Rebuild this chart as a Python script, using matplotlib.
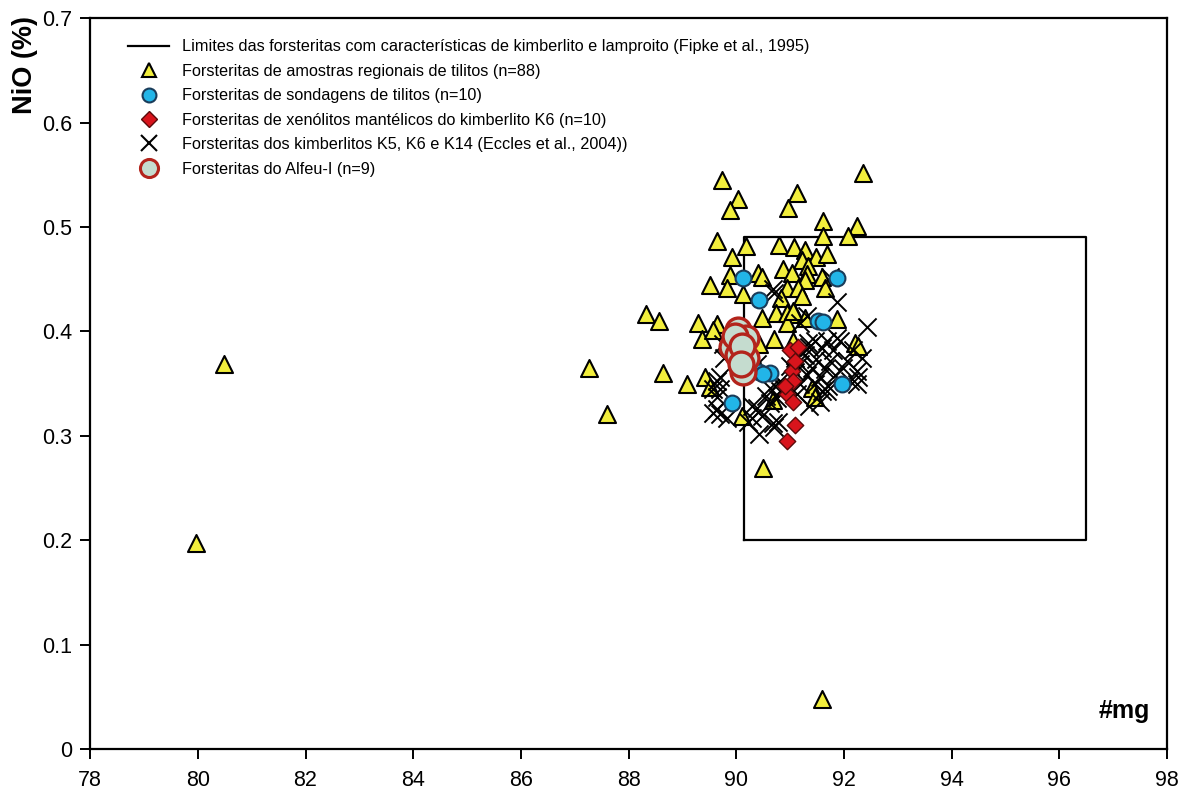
import matplotlib
matplotlib.use('Agg')
import matplotlib.pyplot as plt
from matplotlib.lines import Line2D

plt.rcParams['font.family'] = ['Liberation Sans', 'DejaVu Sans']

# limites Fipke et al. (1995)
box_x = [90.15, 90.15, 96.5, 96.5, 90.15]
box_y = [0.2, 0.49, 0.49, 0.2, 0.2]

# tilitos regionais (triangulos)
tri_x = [79.97, 80.49, 87.27, 87.59, 88.33, 88.56, 88.63, 89.08, 89.41, 89.51,
         89.28, 89.65, 89.36, 89.56, 89.73, 90.03, 89.88, 89.64, 90.19, 89.93,
         89.88, 89.51, 89.82, 90.12, 92.35, 91.12, 90.96, 91.61, 92.24, 91.61,
         92.07, 90.79, 91.07, 91.27, 91.48, 91.68, 91.22, 91.33, 90.40, 90.47,
         90.86, 91.03, 91.31, 91.27, 91.59, 91.64, 90.94, 91.14, 90.83, 91.23,
         90.47, 90.73, 90.94, 91.09, 91.27, 90.94, 91.87, 90.43, 90.71, 91.05,
         92.20, 92.26, 91.40, 91.46, 90.68, 90.10, 90.49, 91.59, 91.05]
tri_y = [0.197, 0.369, 0.365, 0.321, 0.417, 0.410, 0.360, 0.350, 0.356, 0.347,
         0.408, 0.407, 0.393, 0.401, 0.545, 0.527, 0.516, 0.487, 0.482, 0.471,
         0.454, 0.444, 0.442, 0.436, 0.552, 0.533, 0.518, 0.506, 0.501, 0.491,
         0.491, 0.483, 0.481, 0.478, 0.471, 0.474, 0.468, 0.463, 0.456, 0.452,
         0.460, 0.456, 0.455, 0.449, 0.452, 0.442, 0.442, 0.442, 0.432, 0.434,
         0.413, 0.418, 0.418, 0.417, 0.413, 0.408, 0.412, 0.388, 0.393, 0.391,
         0.389, 0.386, 0.346, 0.337, 0.334, 0.319, 0.269, 0.048, 0.420]

# sondagens de tilitos (circulos azuis)
son_x = [90.12, 90.42, 91.88, 91.51, 91.61, 90.43, 90.62, 91.96, 89.93, 90.50]
son_y = [0.451, 0.430, 0.451, 0.410, 0.409, 0.361, 0.360, 0.350, 0.331, 0.359]

# xenolitos mantelicos K6 (losangos)
xen_x = [90.99, 91.03, 91.05, 90.94, 91.05, 91.09, 90.94, 91.10, 90.90, 91.15]
xen_y = [0.382, 0.362, 0.353, 0.340, 0.332, 0.310, 0.295, 0.372, 0.348, 0.385]

# kimberlitos K5, K6, K14 (Eccles et al., 2004)
kim_x = [89.75, 89.78, 89.64, 89.69, 89.65, 89.64, 89.69, 89.82, 89.56, 89.56,
         89.69, 90.38, 90.47, 90.43, 90.56, 90.62, 90.75, 90.77, 90.29, 90.21,
         90.71, 90.30, 90.68, 90.38, 90.30, 90.81, 90.86, 90.62, 90.81, 90.99,
         91.09, 91.22, 90.71, 90.68, 91.87, 92.42, 91.74, 91.31, 91.18, 91.46,
         91.68, 91.87, 91.36, 91.59, 91.79, 91.27, 91.49, 91.74, 92.05, 92.33,
         91.18, 91.40, 91.64, 91.98, 92.24, 91.09, 91.31, 91.55, 91.83, 92.26,
         91.18, 91.46, 91.70, 92.11, 92.24, 91.59, 91.12, 91.68, 91.55, 91.36,
         91.92, 92.16, 91.33]
kim_y = [0.388, 0.375, 0.353, 0.345, 0.337, 0.326, 0.321, 0.317, 0.322, 0.345,
         0.356, 0.327, 0.319, 0.302, 0.338, 0.331, 0.336, 0.313, 0.317, 0.313,
         0.308, 0.329, 0.312, 0.369, 0.362, 0.343, 0.346, 0.346, 0.353, 0.367,
         0.375, 0.379, 0.437, 0.441, 0.428, 0.404, 0.452, 0.415, 0.408, 0.391,
         0.391, 0.394, 0.385, 0.384, 0.382, 0.377, 0.374, 0.372, 0.372, 0.375,
         0.369, 0.365, 0.364, 0.365, 0.362, 0.361, 0.358, 0.356, 0.358, 0.356,
         0.350, 0.350, 0.348, 0.353, 0.350, 0.343, 0.340, 0.343, 0.332, 0.329,
         0.391, 0.382, 0.389]

# Alfeu-I
alf_x = [90.04, 90.19, 89.93, 90.03, 90.19, 90.12, 89.97, 90.10, 90.08]
alf_y = [0.401, 0.394, 0.385, 0.377, 0.375, 0.361, 0.396, 0.386, 0.369]

labels = [
    'Limites das forsteritas com características de kimberlito e lamproito (Fipke et al., 1995)',
    'Forsteritas de amostras regionais de tilitos (n=88)',
    'Forsteritas de sondagens de tilitos (n=10)',
    'Forsteritas de xenólitos mantélicos do kimberlito K6 (n=10)',
    'Forsteritas dos kimberlitos K5, K6 e K14 (Eccles et al., 2004))',
    'Forsteritas do Alfeu-I (n=9)',
]

yellow = '#f2ee3c'
blue = '#22b5e8'
red = '#d8141c'
alf_fill = '#c5dccf'
alf_edge = '#b3241c'

fig, ax = plt.subplots(figsize=(11.86, 7.91), dpi=100)
fig.subplots_adjust(left=0.076, right=0.984, top=0.977, bottom=0.053)

ax.plot(box_x, box_y, color='black', lw=1.6, zorder=1)
ax.scatter(tri_x, tri_y, marker='^', s=150, facecolor=yellow, edgecolor='black',
           linewidth=1.5, zorder=2)
ax.scatter(kim_x, kim_y, marker='x', s=170, color='black', linewidth=1.4, zorder=3)
ax.scatter(son_x, son_y, marker='o', s=130, facecolor=blue, edgecolor='#1a3c5a',
           linewidth=1.5, zorder=4)
ax.scatter(xen_x, xen_y, marker='D', s=70, facecolor=red, edgecolor='#5a0a0a',
           linewidth=1.0, zorder=5)
ax.scatter(alf_x, alf_y, marker='o', s=320, facecolor=alf_fill, edgecolor=alf_edge,
           linewidth=2.4, zorder=6)

handles = [
    Line2D([], [], color='black', lw=1.6),
    Line2D([], [], ls='', marker='^', ms=10, mfc=yellow, mec='black', mew=1.5),
    Line2D([], [], ls='', marker='o', ms=10, mfc=blue, mec='#1a3c5a', mew=1.5),
    Line2D([], [], ls='', marker='D', ms=8, mfc=red, mec='#5a0a0a', mew=1.0),
    Line2D([], [], ls='', marker='x', ms=11, color='black', mew=1.5),
    Line2D([], [], ls='', marker='o', ms=13, mfc=alf_fill, mec=alf_edge, mew=2.2),
]
ax.legend(handles, labels, loc='upper left', bbox_to_anchor=(0.035, 0.971), frameon=False,
          fontsize=11.7, handlelength=2.55, handletextpad=0.8, labelspacing=0.58,
          borderpad=0, borderaxespad=0)

ax.set_xlim(78, 98)
ax.set_ylim(0, 0.7)
ax.set_xticks(range(78, 99, 2))
ax.set_yticks([0, 0.1, 0.2, 0.3, 0.4, 0.5, 0.6, 0.7])
ax.set_yticklabels(['0', '0.1', '0.2', '0.3', '0.4', '0.5', '0.6', '0.7'])
ax.tick_params(direction='out', length=7, width=1.4, labelsize=15.5)
ax.tick_params(axis='x', pad=8)
ax.tick_params(axis='y', pad=6)
for s in ax.spines.values():
    s.set_linewidth(1.6)

ax.set_ylabel('NiO (%)', fontsize=19.5, fontweight='bold')
ax.yaxis.set_label_coords(-0.048, 0.936)
ax.text(0.984, 0.035, '#mg', transform=ax.transAxes, ha='right', va='bottom',
        fontsize=18, fontweight='bold')

fig.savefig('out.png', dpi=100)
